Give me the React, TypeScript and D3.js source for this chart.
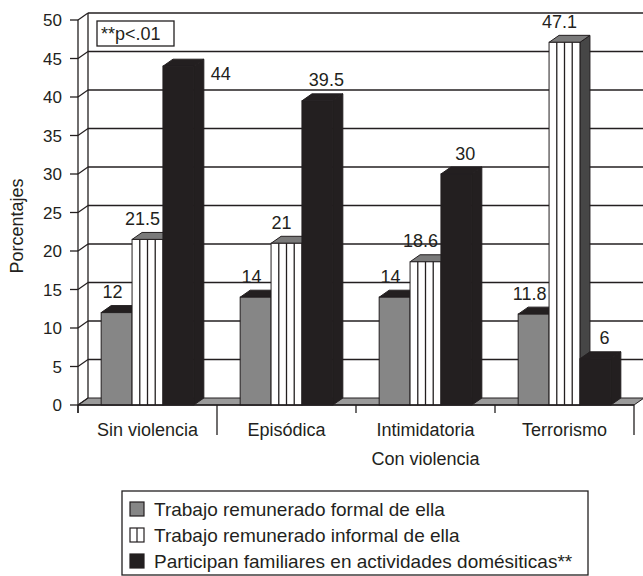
import React from 'react';
import * as d3 from 'd3';

const categories = ['Sin violencia', 'Episódica', 'Intimidatoria', 'Terrorismo'];
const seriesNames = [
  'Trabajo remunerado formal de ella',
  'Trabajo remunerado informal de ella',
  'Participan familiares en actividades domésiticas**',
];
const formal = [12, 14, 14, 11.8];
const informal = [21.5, 21, 18.6, 47.1];
const familiares = [44, 39.5, 30, 6];
const yTicks = [0, 5, 10, 15, 20, 25, 30, 35, 40, 45, 50];
const groupLabel = 'Con violencia';
const note = '**p<.01';

const W = 643;
const H = 576;
const font = 'Liberation Sans, Arial, sans-serif';
const ink = '#231f20';

// 3D depth offset of the plot box
const DX = 10;
const DY = -7;

const faces = [
  { front: '#868686', top: ink, side: ink },
  { front: '#ffffff', top: '#7a7a7a', side: '#464646' },
  { front: ink, top: ink, side: ink },
];

export default function App() {
  const series = [formal, informal, familiares];
  const left = 78;
  const right = 634;
  const base = 405;

  const x = d3.scaleBand<string>().domain(categories).range([left, right]);
  const xs = d3
    .scaleBand<number>()
    .domain([0, 1, 2])
    .range([0, x.bandwidth()])
    .paddingInner(0)
    .paddingOuter(0.75);
  const y = d3.scaleLinear().domain([0, 50]).range([base, 20]);

  const bw = xs.bandwidth();
  const boundaries = [left, ...categories.map(c => (x(c) as number) + x.bandwidth())];
  const longTicks = [1, 4];

  const bars: React.ReactNode[] = [];
  const labels: React.ReactNode[] = [];
  categories.forEach((c, ci) => {
    series.forEach((vals, si) => {
      const v = vals[ci];
      const x0 = (x(c) as number) + (xs(si) as number);
      const yt = y(v);
      const f = faces[si];
      const top = `${x0},${yt} ${x0 + DX},${yt + DY} ${x0 + bw + DX},${yt + DY} ${x0 + bw},${yt}`;
      const side = `${x0 + bw},${yt} ${x0 + bw + DX},${yt + DY} ${x0 + bw + DX},${base + DY} ${x0 + bw},${base}`;
      const stripes = si === 1 ? [1, 2, 3].map(k => x0 + (k * bw) / 4) : [];
      bars.push(
        <g key={`${ci}-${si}`} stroke={ink} strokeWidth={1}>
          <polygon points={side} fill={f.side} />
          <polygon points={top} fill={f.top} />
          <rect x={x0} y={yt} width={bw} height={base - yt} fill={f.front} />
          {stripes.map((sx, k) => (
            <line key={k} x1={sx} x2={sx} y1={yt} y2={base} strokeWidth={1.3} />
          ))}
        </g>
      );
      // Excel pushed the tallest label of the first group beside its bar
      const beside = si === 2 && ci === 0;
      const cx = beside ? x0 + bw + DX + 17 : x0 + bw / 2 + [-4, -5, 9][si];
      const cy = beside ? yt + 7 : yt - 21;
      labels.push(
        <text key={`l${ci}-${si}`} x={cx} y={cy + 6.5} textAnchor="middle" fontSize={18} fill={ink}>
          {String(v)}
        </text>
      );
    });
  });

  return (
    <svg
      width={W}
      height={H}
      style={{ position: 'absolute', left: 0, top: 0, background: '#fff' }}
      fontFamily={font}
    >
      {/* floor */}
      <polygon
        points={`${left},${base} ${right},${base} ${right + DX},${base + DY} ${left + DX},${base + DY}`}
        fill="#9a9a9a"
        stroke={ink}
        strokeWidth={1}
      />
      {/* back wall */}
      <line x1={left + DX} x2={left + DX} y1={y(50) + DY} y2={base + DY} stroke={ink} strokeWidth={1.3} />
      {yTicks.slice(1).map(t => (
        <line key={t} x1={left + DX} x2={right + DX} y1={y(t) + DY} y2={y(t) + DY} stroke={ink} strokeWidth={1.3} />
      ))}
      {/* left wall edges */}
      {yTicks.map(t => (
        <line key={t} x1={left} x2={left + DX} y1={y(t)} y2={y(t) + DY} stroke={ink} strokeWidth={1.2} />
      ))}
      {/* note box */}
      <rect x={97} y={21} width={77} height={25} fill="#fff" stroke={ink} strokeWidth={1.3} />
      <text x={101} y={40} fontSize={18} fill={ink}>{note}</text>

      {bars}

      {/* y axis */}
      <line x1={left} x2={left} y1={y(50)} y2={base + 8} stroke={ink} strokeWidth={1.3} />
      {yTicks.map(t => (
        <g key={t}>
          <line x1={left - 8} x2={left} y1={y(t)} y2={y(t)} stroke={ink} strokeWidth={1.3} />
          <text x={62} y={y(t) + 6} textAnchor="end" fontSize={17} fill={ink}>{t}</text>
        </g>
      ))}
      <text
        transform={`translate(23,226) rotate(-90)`}
        textAnchor="middle"
        fontSize={18}
        fill={ink}
      >
        Porcentajes
      </text>

      {/* x axis */}
      <line x1={left} x2={right} y1={base} y2={base} stroke={ink} strokeWidth={1.3} />
      {boundaries.map((bx, i) => (
        <line key={i} x1={bx} x2={bx} y1={base} y2={base + (longTicks.includes(i) ? 30 : 8)} stroke={ink} strokeWidth={1.3} />
      ))}
      {categories.map(c => (
        <text key={c} x={(x(c) as number) + x.bandwidth() / 2} y={436} textAnchor="middle" fontSize={18} fill={ink}>
          {c}
        </text>
      ))}
      <text
        x={((x(categories[1]) as number) + right) / 2}
        y={465}
        textAnchor="middle"
        fontSize={18}
        fill={ink}
      >
        {groupLabel}
      </text>

      {labels}

      {/* legend */}
      <rect x={122} y={491} width={466} height={84} fill="#fff" stroke={ink} strokeWidth={1.3} />
      {seriesNames.map((name, i) => {
        const ry = 509 + i * 26;
        const f = faces[i];
        return (
          <g key={name}>
            <rect x={130} y={ry - 7} width={14} height={14} fill={f.front} stroke={ink} strokeWidth={1.2} />
            {i === 1 && <line x1={137} x2={137} y1={ry - 7} y2={ry + 7} stroke={ink} strokeWidth={1.2} />}
            <text x={154} y={ry + 7} fontSize={19} fill={ink}>{name}</text>
          </g>
        );
      })}
    </svg>
  );
}
